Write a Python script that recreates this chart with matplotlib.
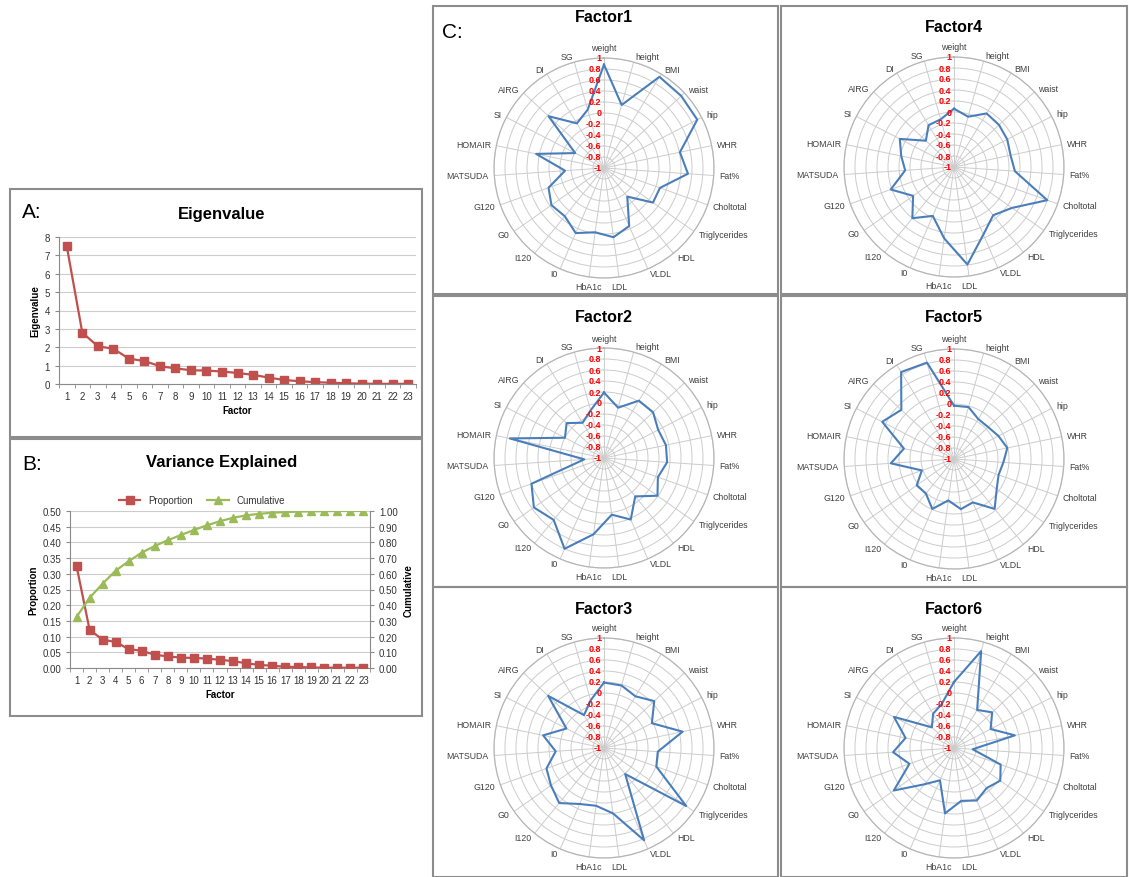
import numpy as np
import matplotlib.pyplot as plt
from matplotlib.patches import Rectangle
from matplotlib.lines import Line2D
from matplotlib.transforms import offset_copy

plt.rcParams['font.family'] = ['Liberation Sans', 'DejaVu Sans']

# ---------------- data ----------------
factors = np.arange(1, 24)
eigenvalue = [7.5, 2.8, 2.05, 1.92, 1.38, 1.25, 0.97, 0.85, 0.75, 0.73, 0.68, 0.6,
              0.5, 0.35, 0.22, 0.15, 0.1, 0.07, 0.04, 0.02, 0.01, 0.01, 0.01]
proportion = [0.325, 0.122, 0.09, 0.083, 0.06, 0.055, 0.042, 0.037, 0.033, 0.032, 0.03,
              0.026, 0.022, 0.015, 0.01, 0.007, 0.004, 0.003, 0.002, 0.001, 0.001, 0.001, 0.001]
cumulative = [0.325, 0.447, 0.537, 0.62, 0.68, 0.735, 0.777, 0.814, 0.847, 0.879, 0.909,
              0.935, 0.957, 0.972, 0.982, 0.989, 0.993, 0.996, 0.998, 0.999, 1.0, 1.0, 1.0]

variables = ['weight', 'height', 'BMI', 'waist', 'hip', 'WHR', 'Fat%', 'Choltotal',
             'Triglycerides', 'HDL', 'VLDL', 'LDL', 'HbA1c', 'I0', 'I120', 'G0', 'G120',
             'MATSUDA', 'HOMAIR', 'SI', 'AIRG', 'DI', 'SG']

factor1 = [0.88, 0.19, 0.94, 0.92, 0.91, 0.41, 0.53, 0.08, 0.09, -0.33, 0.15, 0.27,
           0.18, 0.29, 0.13, 0.17, 0.07, -0.29, 0.26, -0.41, 0.38, -0.05, 0.10]
factor2 = [0.19, -0.05, 0.22, 0.22, 0.11, 0.15, 0.15, 0.04, 0.19, -0.10, 0.22, 0.04,
           0.40, 0.80, 0.45, 0.56, 0.40, -0.64, 0.75, -0.20, -0.07, -0.25, -0.10]
factor3 = [0.19, 0.18, 0.10, 0.25, -0.02, 0.46, -0.02, 0.01, 0.83, -0.39, 0.83, 0.20,
           0.06, 0.11, 0.29, 0.18, 0.11, -0.12, 0.13, -0.23, 0.39, -0.30, -0.10]
factor4 = [0.06, -0.05, 0.14, 0.12, 0.09, 0.05, 0.11, 0.80, 0.29, 0.13, 0.34, 0.79,
           0.31, -0.03, 0.20, -0.09, 0.22, -0.11, -0.02, 0.11, -0.30, -0.11, -0.10]
factor5 = [-0.03, -0.02, -0.15, -0.15, -0.09, -0.01, -0.10, -0.14, -0.05, 0.17, -0.14, -0.08,
           -0.24, -0.01, -0.19, -0.17, -0.38, 0.15, -0.07, 0.47, 0.31, 0.85, 0.82]
factor6 = [0.20, 0.83, -0.19, -0.05, -0.25, 0.13, -0.66, -0.10, 0.03, -0.06, 0.04, -0.03,
           0.20, -0.36, -0.15, 0.34, -0.14, 0.11, -0.10, 0.23, -0.45, -0.27, -0.17]

ring_vals = [1, 0.8, 0.6, 0.4, 0.2, 0, -0.2, -0.4, -0.6, -0.8, -1]
ring_labels = ['1', '0.8', '0.6', '0.4', '0.2', '0', '-0.2', '-0.4', '-0.6', '-0.8', '-1']

RED = '#C0504D'
GREEN = '#9BBB59'
BLUE = '#4A7EBB'
GRID = '#cccccc'
BORDER = '#8c8c8c'

# ---------------- figure helpers (pixel coords, origin top-left) ----------------
W, H = 1129, 878
fig = plt.figure(figsize=(W / 100, H / 100), dpi=100)


def fx(x):
    return x / W


def fy(y):
    return 1 - y / H


def box(x0, y0, x1, y1):
    fig.patches.append(Rectangle((fx(x0), fy(y1)), fx(x1) - fx(x0), fy(y0) - fy(y1),
                                 transform=fig.transFigure, fill=False, ec=BORDER, lw=1.5))


def axes_px(x0, y0, x1, y1, **kw):
    return fig.add_axes([fx(x0), fy(y1), fx(x1) - fx(x0), fy(y0) - fy(y1)], **kw)


def excel_style(ax):
    for s in ['top', 'right']:
        ax.spines[s].set_visible(False)
    for s in ['left', 'bottom']:
        ax.spines[s].set_color('#8a8a8a')
    ax.grid(axis='y', color=GRID, lw=0.8)
    ax.set_axisbelow(True)
    ax.tick_params(labelsize=7, colors='#8a8a8a', labelcolor='#333333', length=3)
    ax.set_xlim(0.5, 23.5)
    ax.set_xticks(factors)
    ax.set_xticks(np.arange(0.5, 24, 1), minor=True)
    ax.tick_params(axis='x', which='major', length=0, pad=5)
    ax.tick_params(axis='x', which='minor', length=3, color='#8a8a8a')


# ---------------- panel A ----------------
box(10, 190, 422, 438)
fig.text(fx(22), fy(212), 'A:', fontsize=15, va='center')
fig.text(fx(222), fy(214), 'Eigenvalue', fontsize=12, fontweight='bold', ha='center', va='center')
axA = axes_px(59, 238, 416, 385)
excel_style(axA)
axA.plot(factors, eigenvalue, color=RED, lw=1.6, marker='s', ms=6, mfc=RED, mec=RED)
axA.set_ylim(0, 8)
axA.set_yticks(range(0, 9))
axA.set_ylabel('Eigenvalue', fontsize=7, fontweight='bold', labelpad=3)
axA.set_xlabel('Factor', fontsize=7, fontweight='bold', labelpad=3)

# ---------------- panel B ----------------
box(10, 440, 422, 717)
fig.text(fx(22), fy(465), 'B:', fontsize=15, va='center')
fig.text(fx(222), fy(463), 'Variance Explained', fontsize=12, fontweight='bold', ha='center', va='center')
axB = axes_px(70, 512, 370, 669)
excel_style(axB)
axB.set_ylim(0, 0.5)
axB.set_yticks(np.arange(0, 0.501, 0.05))
axB.set_yticklabels(['%.2f' % v for v in np.arange(0, 0.501, 0.05)])
axB.plot(factors, proportion, color=RED, lw=1.6, marker='s', ms=5.5, mfc=RED, mec=RED, zorder=4)
axB.set_ylabel('Proportion', fontsize=7, fontweight='bold', labelpad=3)
axB.set_xlabel('Factor', fontsize=7, fontweight='bold', labelpad=3)
axB2 = axB.twinx()
axB2.set_ylim(0, 1)
axB2.set_yticks(np.arange(0, 1.001, 0.1))
axB2.set_yticklabels(['%.2f' % v for v in np.arange(0, 1.001, 0.1)])
axB2.plot(factors, cumulative, color=GREEN, lw=1.6, marker='^', ms=5.5, mfc=GREEN, mec=GREEN, zorder=3)
for s in ['top', 'left', 'bottom']:
    axB2.spines[s].set_visible(False)
axB2.spines['right'].set_color('#8a8a8a')
axB2.tick_params(labelsize=7, colors='#8a8a8a', labelcolor='#333333', length=3)
axB2.set_ylabel('Cumulative', fontsize=7, fontweight='bold', labelpad=4)
handles = [Line2D([], [], color=RED, lw=1.6, marker='s', ms=5.5),
           Line2D([], [], color=GREEN, lw=1.6, marker='^', ms=5.5)]
axB.legend(handles, ['Proportion', 'Cumulative'], loc='lower center', bbox_to_anchor=(0.44, 1.0),
           ncol=2, frameon=False, fontsize=7, handlelength=2.2, columnspacing=1.5,
           borderaxespad=0.2, labelcolor='#333333')

# ---------------- panel C: radar charts ----------------
fig.text(fx(442), fy(32), 'C:', fontsize=15, va='center')

theta = np.arange(len(variables)) * 2 * np.pi / len(variables)
R = 110


def radar(cx, cy, title, title_y, vals):
    ax = axes_px(cx - R, cy - R, cx + R, cy + R, projection='polar')
    ax.set_theta_zero_location('N')
    ax.set_theta_direction(-1)
    ax.set_ylim(-1, 1)
    ax.set_yticks(ring_vals)
    ax.set_yticklabels([])
    ax.set_xticks(theta)
    ax.set_xticklabels([])
    ax.grid(True, color=GRID, lw=0.7)
    ax.spines['polar'].set_color('#b5b5b5')
    ax.spines['polar'].set_linewidth(0.9)
    ax.set_facecolor('none')
    tt = np.append(theta, theta[0])
    vv = np.append(vals, vals[0])
    ax.plot(tt, vv, color=BLUE, lw=1.5, zorder=5)
    # red ring labels on the vertical axis
    tr = offset_copy(ax.transData, fig=fig, x=-2.5, y=0, units='dots')
    for v, s in zip(ring_vals, ring_labels):
        ax.text(0, v, s, transform=tr, ha='right', va='center', color='#ff0000',
                fontsize=6.5, fontweight='bold', zorder=6)
    # variable labels round the rim
    for t, name in zip(theta, variables):
        deg = np.degrees(t)
        if deg < 5:
            ha, va = 'center', 'bottom'
        elif deg < 170:
            ha, va = 'left', 'center'
        elif deg < 190:
            ha, va = 'center', 'top'
        else:
            ha, va = 'right', 'center'
        ax.text(t, 1.1, name, ha=ha, va=va, fontsize=6.3, color='#404040', clip_on=False)
    fig.text(fx(cx), fy(title_y), title, ha='center', va='center', fontsize=11.5, fontweight='bold')


box(433, 7, 778, 295)
box(781, 7, 1127, 295)
box(433, 297, 778, 588)
box(781, 297, 1127, 588)
box(433, 588, 778, 878)
box(781, 588, 1127, 878)

radar(604, 169, 'Factor1', 18, factor1)
radar(954, 168, 'Factor4', 27, factor4)
radar(604, 459, 'Factor2', 318, factor2)
radar(954, 460, 'Factor5', 318, factor5)
radar(604, 749, 'Factor3', 609, factor3)
radar(954, 749, 'Factor6', 610, factor6)

fig.savefig('out.png', dpi=100, facecolor='white')
